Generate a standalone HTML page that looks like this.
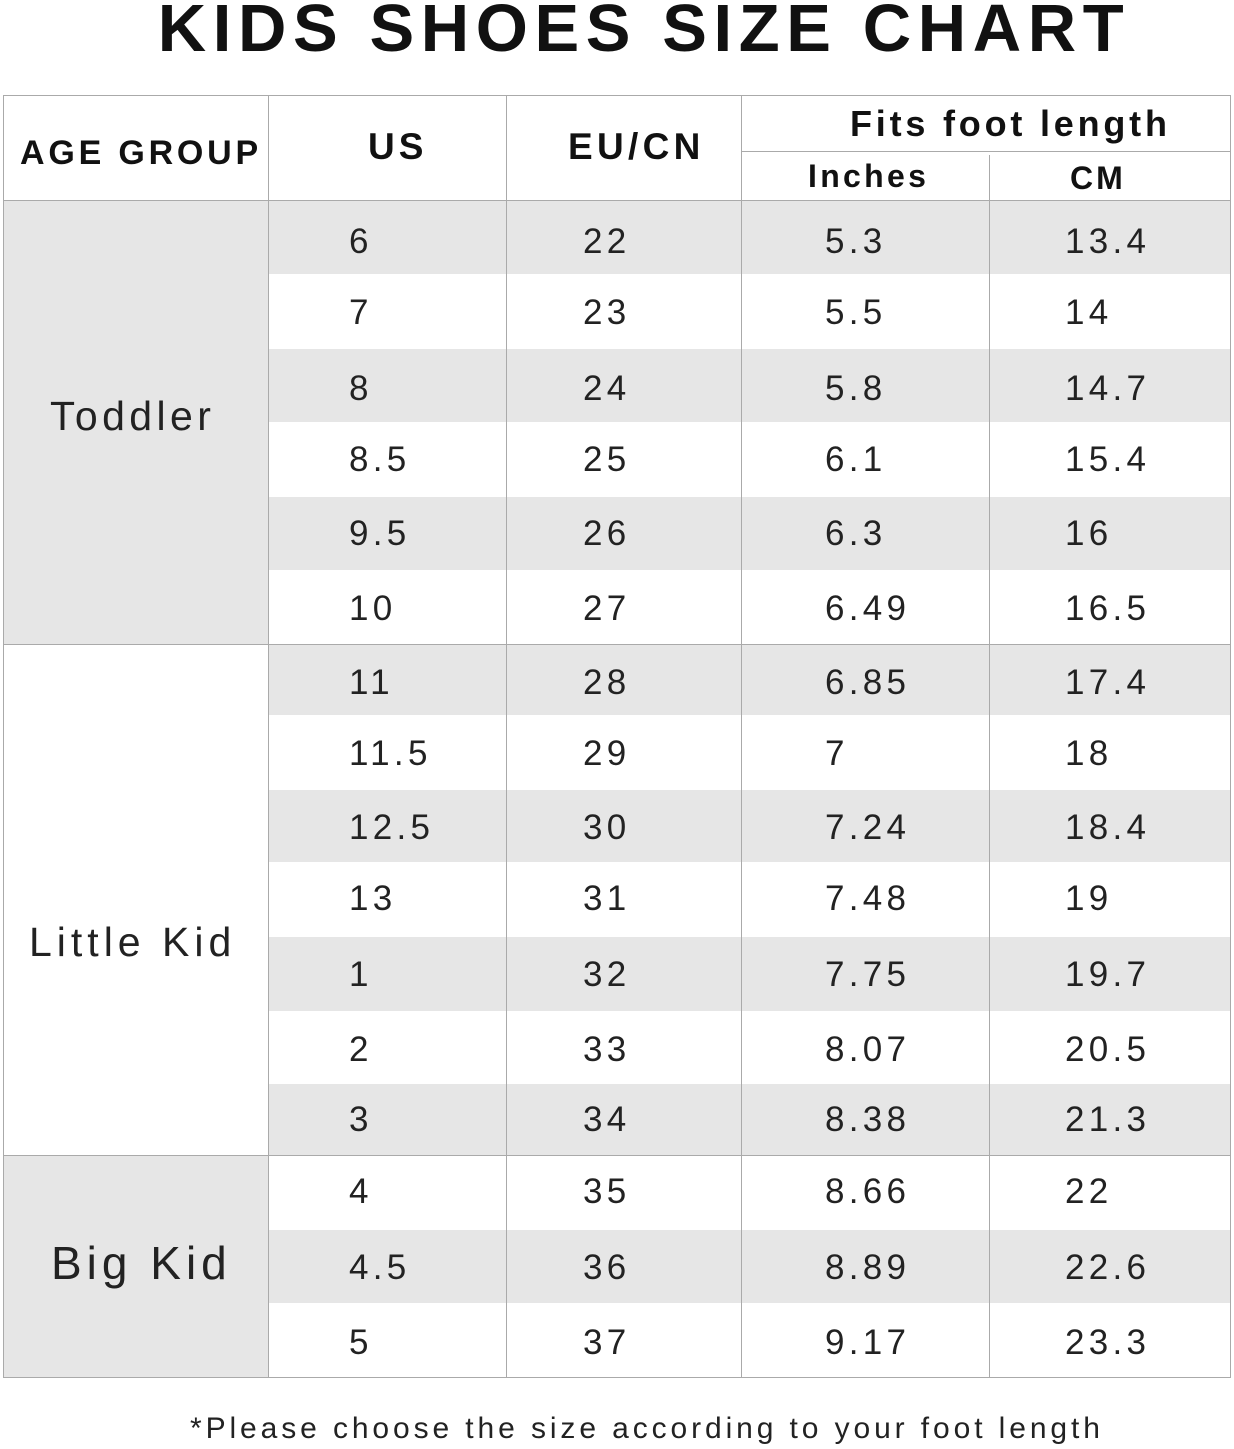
<!DOCTYPE html>
<html><head><style>
body{margin:0;width:1234px;height:1449px;background:#fff;position:relative;overflow:hidden;font-family:"Liberation Sans",sans-serif;color:#222}
.a{position:absolute;white-space:nowrap}
.t{font-weight:bold;font-size:67px;letter-spacing:6.6px;left:27px;width:1234px;text-align:center;top:-10px;color:#111}
.h{font-weight:bold;color:#111}
.n{font-size:35px;letter-spacing:4.3px;line-height:40px}
.g{font-size:41px;letter-spacing:4px}
.vl{position:absolute;width:1px;background:#aaa}
.hl{position:absolute;height:1px;background:#aaa}
.bg{position:absolute;background:#e6e6e6}
</style></head><body>
<div class="a t">KIDS SHOES SIZE CHART</div>
<div class="bg" style="left:3px;top:200px;width:265px;height:444px"></div>
<div class="bg" style="left:3px;top:1155px;width:265px;height:222px"></div>
<div class="bg" style="left:268px;top:200px;width:962px;height:74px"></div>
<div class="bg" style="left:268px;top:349px;width:962px;height:73px"></div>
<div class="bg" style="left:268px;top:497px;width:962px;height:73px"></div>
<div class="bg" style="left:268px;top:644px;width:962px;height:71px"></div>
<div class="bg" style="left:268px;top:790px;width:962px;height:72px"></div>
<div class="bg" style="left:268px;top:937px;width:962px;height:74px"></div>
<div class="bg" style="left:268px;top:1084px;width:962px;height:71px"></div>
<div class="bg" style="left:268px;top:1230px;width:962px;height:73px"></div>
<div class="hl" style="left:3px;top:95px;width:1228px"></div>
<div class="hl" style="left:3px;top:200px;width:1228px"></div>
<div class="hl" style="left:741px;top:151px;width:490px"></div>
<div class="hl" style="left:3px;top:644px;width:1228px"></div>
<div class="hl" style="left:3px;top:1155px;width:1228px"></div>
<div class="hl" style="left:3px;top:1377px;width:1228px"></div>
<div class="vl" style="left:3px;top:95px;height:1283px"></div>
<div class="vl" style="left:268px;top:95px;height:1283px"></div>
<div class="vl" style="left:506px;top:95px;height:1283px"></div>
<div class="vl" style="left:741px;top:95px;height:1283px"></div>
<div class="vl" style="left:989px;top:155px;height:1223px"></div>
<div class="vl" style="left:1230px;top:95px;height:1283px"></div>
<div class="a h" style="left:20px;top:134px;font-size:34px;letter-spacing:3.8px">AGE GROUP</div>
<div class="a h" style="left:368px;top:126px;font-size:37px;letter-spacing:4px">US</div>
<div class="a h" style="left:568px;top:126px;font-size:37px;letter-spacing:4.3px">EU/CN</div>
<div class="a h" style="left:850px;top:103px;font-size:36px;letter-spacing:3.8px">Fits foot length</div>
<div class="a h" style="left:808px;top:158px;font-size:32px;letter-spacing:3.3px">Inches</div>
<div class="a h" style="left:1070px;top:160px;font-size:32px;letter-spacing:3px">CM</div>
<div class="a g" style="left:50px;top:393px;letter-spacing:4.4px">Toddler</div>
<div class="a g" style="left:29px;top:919px;letter-spacing:5px">Little Kid</div>
<div class="a g" style="left:51px;top:1236px;font-size:46px;letter-spacing:5px">Big Kid</div>
<div id="rows"></div>
<div class="a" style="left:190px;top:1412px;font-size:30px;letter-spacing:3.9px">*Please choose the size according to your foot length</div>
<script>
var d=[["6","22","5.3","13.4"],["7","23","5.5","14"],["8","24","5.8","14.7"],["8.5","25","6.1","15.4"],["9.5","26","6.3","16"],["10","27","6.49","16.5"],["11","28","6.85","17.4"],["11.5","29","7","18"],["12.5","30","7.24","18.4"],["13","31","7.48","19"],["1","32","7.75","19.7"],["2","33","8.07","20.5"],["3","34","8.38","21.3"],["4","35","8.66","22"],["4.5","36","8.89","22.6"],["5","37","9.17","23.3"]];
var ys=[242,313,389,460,534,609,683,754,828,899,975,1050,1120,1192,1268,1343];
var xs=[349,583,825,1065];var h="";
d.forEach(function(r,i){r.forEach(function(v,j){h+='<div class="a n" style="left:'+xs[j]+'px;top:'+(ys[i]-20)+'px">'+v+'</div>';});});
document.getElementById("rows").outerHTML=h;
</script>
</body></html>
